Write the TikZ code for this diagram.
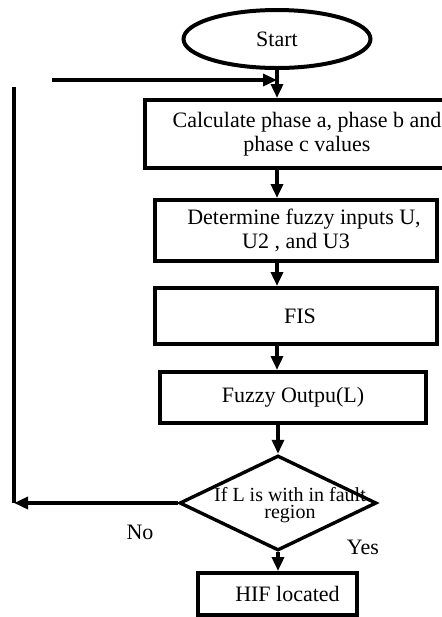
\documentclass[tikz,border=0pt]{standalone}
\usepackage{fontspec}
\setmainfont{Liberation Serif}
\usetikzlibrary{shapes.geometric}
\usetikzlibrary{arrows.meta}
\tikzset{>={Triangle[width=6pt,length=7pt]}}

\begin{document}
\begin{tikzpicture}[x=0.5pt, y=-0.5pt,
  every node/.style={font=\fontsize{11}{12}\selectfont},
  stepbox/.style={draw=black, line width=2pt, rectangle, inner sep=2pt, align=center},
  flow/.style={->, line width=1.7pt}]
  \useasboundingbox (0,0) rectangle (442,617);

  \node[draw=black, line width=2pt, ellipse, minimum width=93.5pt, minimum height=29pt] (START) at (277,39) {Start};
  \node[stepbox, minimum width=162pt, minimum height=34pt] (CALC) at (307,134) {Calculate phase a, phase b and\\phase c values};
  \node[stepbox, minimum width=141pt, minimum height=30.5pt] (DET) at (296,230.5) {\hspace*{8pt}Determine fuzzy inputs U,\\U2 , and U3};
  \node[stepbox, minimum width=141pt, minimum height=28pt] (FIS) at (296,316) {\hspace*{4pt}FIS};
  \node[stepbox, minimum width=133pt, minimum height=25.5pt] (OUT) at (293,397.5) {Fuzzy Outpu(L)};
  \node[draw=black, line width=1.7pt, diamond, minimum width=98.5pt, minimum height=47.5pt, inner sep=0pt,
        label={[align=center, font=\fontsize{10}{8.5}\selectfont, xshift=6pt, yshift=-1pt]center:If L is with in fault\\region}] (DEC) at (278,503) {};
  \node[stepbox, minimum width=79.5pt, minimum height=21pt] (HIF) at (277.5,594) {\hspace*{10pt}HIF located};
  \node (NO) at (140,532) {No};
  \node (YES) at (363,547) {Yes};

  \coordinate (LOOPIN) at (52,80);
  \coordinate (BACK) at (14,503);
  \coordinate (BACKTOP) at (14,87);

  \draw[flow] (LOOPIN) -- (LOOPIN -| START);
  \draw[flow] (START) -- (CALC.north -| START);
  \draw[flow] (CALC.south -| START) -- (DET.north -| START);
  \draw[flow] (DET.south -| START) -- (FIS.north -| START);
  \draw[flow] (FIS.south -| START) -- (OUT.north -| START);
  \draw[flow] (OUT.south -| DEC) -- (DEC);
  \draw[flow] (DEC) -- (HIF.north -| DEC);
  \draw[flow] (DEC) -- (BACK);
  \draw[line width=2pt] (BACK) -- (BACKTOP);
\end{tikzpicture}
\end{document}
